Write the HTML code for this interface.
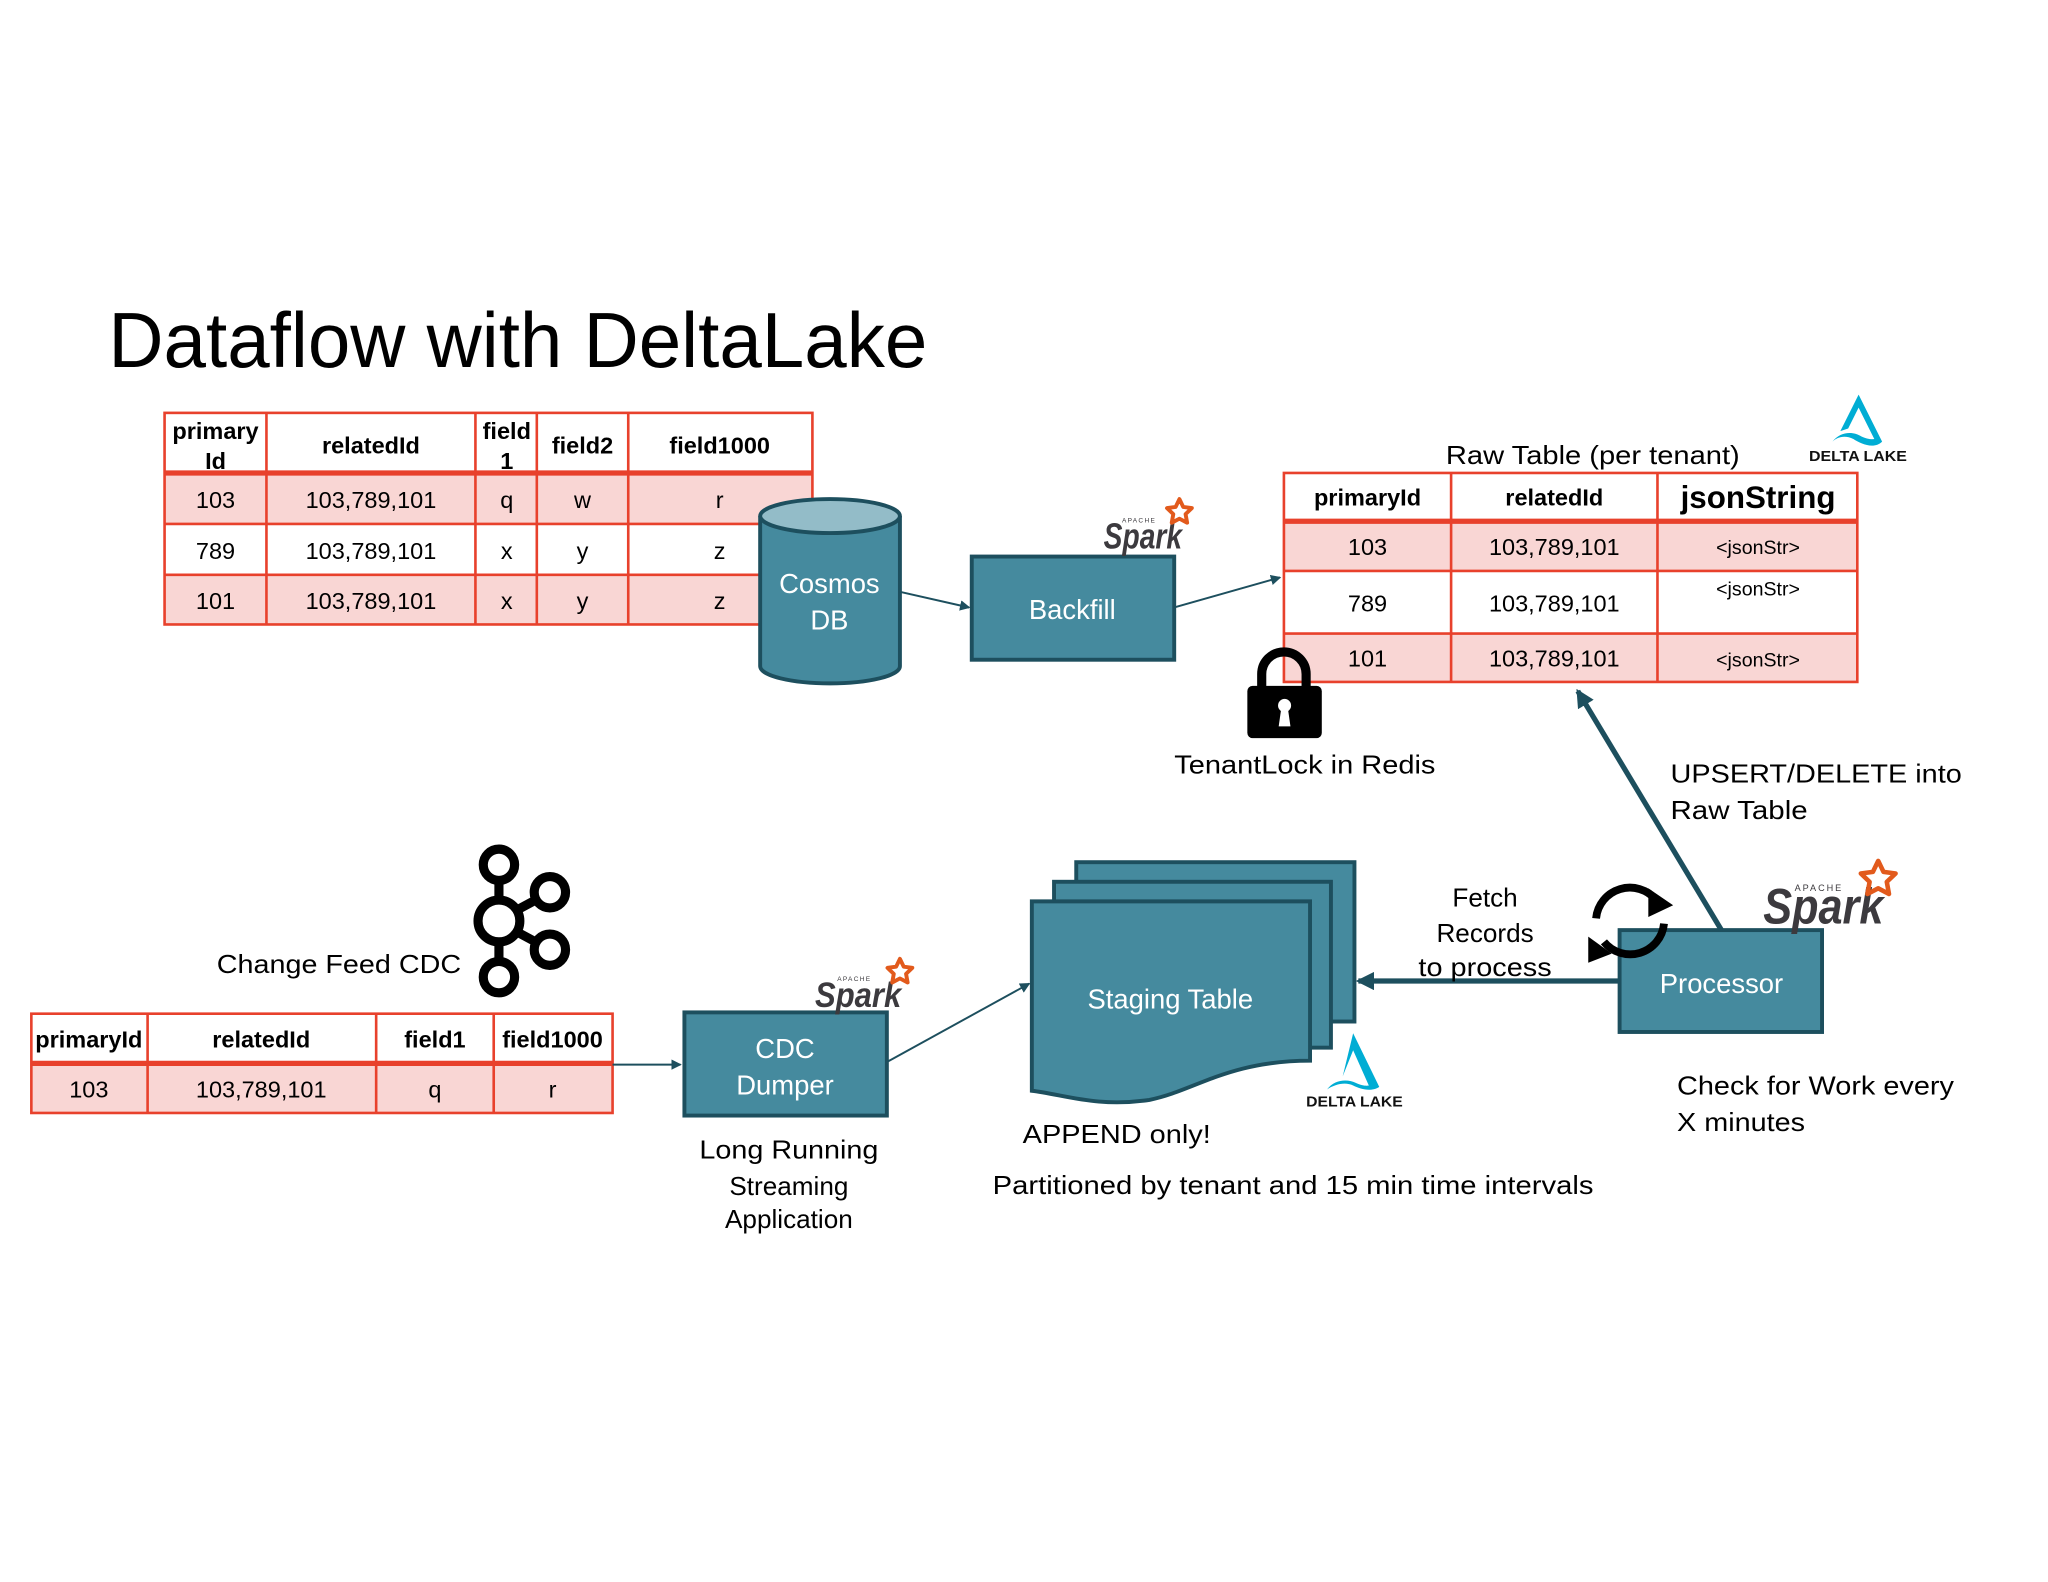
<!DOCTYPE html>
<html><head><meta charset="utf-8"><style>
html,body{margin:0;padding:0;background:#fff;}
svg{display:block;}
text{font-family:"Liberation Sans",Arial,sans-serif;}
</style></head><body>
<svg width="2048" height="1582" viewBox="0 0 1568 1211" xmlns="http://www.w3.org/2000/svg">
<defs>
<marker id="ah" markerWidth="8" markerHeight="8" refX="7" refY="4" orient="auto" markerUnits="userSpaceOnUse"><path d="M0,0 L8,4 L0,8 Z" fill="#1d4f5e"/></marker>
<marker id="ahb" markerWidth="14" markerHeight="14" refX="12" refY="7" orient="auto" markerUnits="userSpaceOnUse"><path d="M0,0 L14,7 L0,14 Z" fill="#1d4f5e"/></marker>
</defs>
<rect width="1568" height="1211" fill="#fff"/>

<text x="83" y="281" font-size="60" textLength="627" lengthAdjust="spacingAndGlyphs" fill="#000">Dataflow with DeltaLake</text>

<!-- Table 1 -->
<g>
<rect x="126" y="362" width="496" height="39" fill="#f9d6d4"/>
<rect x="126" y="440" width="496" height="38" fill="#f9d6d4"/>
<g stroke="#e8412c" stroke-width="2" fill="none">
<rect x="126" y="316" width="496" height="162"/>
<line x1="126" y1="401" x2="622" y2="401"/><line x1="126" y1="440" x2="622" y2="440"/>
<line x1="204" y1="316" x2="204" y2="478"/><line x1="364" y1="316" x2="364" y2="478"/>
<line x1="411" y1="316" x2="411" y2="478"/><line x1="481" y1="316" x2="481" y2="478"/>
</g>
<line x1="126" y1="362" x2="622" y2="362" stroke="#e8412c" stroke-width="4"/>
<g font-size="18" font-weight="bold" text-anchor="middle" fill="#000">
<text x="165" y="336">primary</text><text x="165" y="359">Id</text>
<text x="284" y="347">relatedId</text>
<text x="388" y="336">field</text><text x="388" y="359">1</text>
<text x="446" y="347">field2</text><text x="551" y="347">field1000</text>
</g>
<g font-size="18" text-anchor="middle" fill="#000">
<text x="165" y="389">103</text><text x="284" y="389">103,789,101</text><text x="388" y="389">q</text><text x="446" y="389">w</text><text x="551" y="389">r</text>
<text x="165" y="428">789</text><text x="284" y="428">103,789,101</text><text x="388" y="428">x</text><text x="446" y="428">y</text><text x="551" y="428">z</text>
<text x="165" y="466">101</text><text x="284" y="466">103,789,101</text><text x="388" y="466">x</text><text x="446" y="466">y</text><text x="551" y="466">z</text>
</g>
</g>

<!-- Cosmos DB -->
<path d="M582,395 L582,510 A53,13 0 0 0 689,510 L689,395" fill="#458a9e" stroke="#1d4f5e" stroke-width="3"/>
<ellipse cx="635.5" cy="395" rx="53.5" ry="13" fill="#93bcc8" stroke="#1d4f5e" stroke-width="3"/>
<text x="635" y="454" font-size="21" fill="#fff" text-anchor="middle">Cosmos</text>
<text x="635" y="482" font-size="21" fill="#fff" text-anchor="middle">DB</text>

<line x1="689" y1="453" x2="742" y2="465" stroke="#1d4f5e" stroke-width="1.5" marker-end="url(#ah)"/>

<rect x="744" y="426" width="155" height="79" fill="#458a9e" stroke="#1d4f5e" stroke-width="3"/>
<text x="821" y="474" font-size="21" fill="#fff" text-anchor="middle">Backfill</text>
<g transform="translate(845,380)">
<text x="0" y="40" font-size="28" font-weight="bold" font-style="italic" fill="#3c3a3e" textLength="60" lengthAdjust="spacingAndGlyphs">Spark</text>
<text x="14" y="20" font-size="5" fill="#3c3a3e" letter-spacing="1">APACHE</text>
<polygon points="0,-10 2.9,-4 9.5,-3.1 4.7,1.5 5.9,8.1 0,5 -5.9,8.1 -4.7,1.5 -9.5,-3.1 -2.9,-4" transform="translate(58,12)" fill="none" stroke="#e25a1c" stroke-width="3" stroke-linejoin="round"/>
</g>

<line x1="899" y1="465" x2="980" y2="442" stroke="#1d4f5e" stroke-width="1.5" marker-end="url(#ah)"/>

<!-- Raw table -->
<text x="1107" y="355" font-size="20" fill="#000" textLength="225" lengthAdjust="spacingAndGlyphs">Raw Table (per tenant)</text>
<rect x="983" y="399" width="439" height="38" fill="#f9d6d4"/>
<rect x="983" y="485" width="439" height="37" fill="#f9d6d4"/>
<g stroke="#e8412c" stroke-width="2" fill="none">
<rect x="983" y="362" width="439" height="160"/>
<line x1="983" y1="437" x2="1422" y2="437"/><line x1="983" y1="485" x2="1422" y2="485"/>
<line x1="1111" y1="362" x2="1111" y2="522"/><line x1="1269" y1="362" x2="1269" y2="522"/>
</g>
<line x1="983" y1="399" x2="1422" y2="399" stroke="#e8412c" stroke-width="4"/>
<g text-anchor="middle" fill="#000">
<text x="1047" y="387" font-size="18" font-weight="bold">primaryId</text>
<text x="1190" y="387" font-size="18" font-weight="bold">relatedId</text>
<text x="1346" y="389" font-size="24" font-weight="bold">jsonString</text>
<g font-size="18"><text x="1047" y="425">103</text><text x="1190" y="425">103,789,101</text>
<text x="1047" y="468">789</text><text x="1190" y="468">103,789,101</text>
<text x="1047" y="510">101</text><text x="1190" y="510">103,789,101</text></g>
<g font-size="15"><text x="1346" y="424">&lt;jsonStr&gt;</text><text x="1346" y="456">&lt;jsonStr&gt;</text><text x="1346" y="510">&lt;jsonStr&gt;</text></g>
</g>

<g transform="translate(1385,300)">
<path d="M38,2 L56,38 C50,44 40,40 34,36 C28,33 22,34 18,38 C24,30 34,30 40,34 C46,37 50,36 50,36 L38,12 L30,28 L24,30 Z" fill="#00add4"/>
<text x="0" y="53" font-size="11" font-weight="bold" fill="#111" textLength="75" lengthAdjust="spacingAndGlyphs">DELTA LAKE</text>
</g>

<g transform="translate(955,498)">
<path d="M11,28 L11,18 A17,17 0 0 1 45,18 L45,28" fill="none" stroke="#000" stroke-width="7"/>
<rect x="0" y="27" width="57" height="40" rx="4" fill="#000"/>
<circle cx="28.5" cy="42" r="5" fill="#fff"/>
<path d="M26,44 L24,58 L33,58 L31,44 Z" fill="#fff"/>
</g>
<text x="899" y="592" font-size="20" fill="#000" textLength="200" lengthAdjust="spacingAndGlyphs">TenantLock in Redis</text>

<line x1="1318" y1="712" x2="1208" y2="529" stroke="#1d4f5e" stroke-width="4" marker-end="url(#ahb)"/>
<text x="1279" y="599" font-size="20" fill="#000" textLength="223" lengthAdjust="spacingAndGlyphs">UPSERT/DELETE into</text>
<text x="1279" y="627" font-size="20" fill="#000" textLength="105" lengthAdjust="spacingAndGlyphs">Raw Table</text>

<rect x="1240" y="712" width="155" height="78" fill="#458a9e" stroke="#1d4f5e" stroke-width="3"/>
<text x="1318" y="760" font-size="21" fill="#fff" text-anchor="middle">Processor</text>
<g transform="translate(1248,705)" fill="none" stroke="#000" stroke-width="6">
<path d="M-26,-2 A26,26 0 0 1 20,-16"/>
<path d="M26,2 A26,26 0 0 1 -20,16"/>
</g>
<path d="M1262,680 L1281,693 L1262,702 Z" fill="#000"/>
<path d="M1234,730 L1216,717 L1216,737 Z" fill="#000"/>
<g transform="translate(1350,657)">
<text x="0" y="50" font-size="38" font-weight="bold" font-style="italic" fill="#3c3a3e" textLength="92" lengthAdjust="spacingAndGlyphs">Spark</text>
<text x="24" y="25" font-size="7" fill="#3c3a3e" letter-spacing="1.5">APACHE</text>
<polygon points="0,-10 2.9,-4 9.5,-3.1 4.7,1.5 5.9,8.1 0,5 -5.9,8.1 -4.7,1.5 -9.5,-3.1 -2.9,-4" transform="translate(88,16) scale(1.4)" fill="none" stroke="#e25a1c" stroke-width="2.5" stroke-linejoin="round"/>
</g>

<line x1="1240" y1="751" x2="1040" y2="751" stroke="#1d4f5e" stroke-width="4" marker-end="url(#ahb)"/>
<g font-size="20" text-anchor="middle" fill="#000">
<text x="1137" y="694">Fetch</text><text x="1137" y="721">Records</text><text x="1137" y="747" textLength="102" lengthAdjust="spacingAndGlyphs">to process</text>
</g>
<text x="1284" y="838" font-size="20" fill="#000" textLength="212" lengthAdjust="spacingAndGlyphs">Check for Work every</text>
<text x="1284" y="866" font-size="20" fill="#000" textLength="98" lengthAdjust="spacingAndGlyphs">X minutes</text>

<g fill="#458a9e" stroke="#1d4f5e" stroke-width="3">
<rect x="824" y="660" width="213" height="122"/>
<rect x="807" y="675" width="212" height="127"/>
<path d="M790,690 L1003,690 L1003,812 C940,812 915,835 880,842 C840,848 815,838 790,835 Z"/>
</g>
<text x="896" y="772" font-size="21" fill="#fff" text-anchor="middle">Staging Table</text>
<g transform="translate(1000,790)">
<path d="M36,1 L56,42 C50,46 42,44 36,41 C30,38 22,40 16,44 C22,36 32,36 38,39 C44,42 48,41 48,41 L36,14 L28,34 Z" fill="#00add4"/>
<text x="0" y="57" font-size="11" font-weight="bold" fill="#111" textLength="74" lengthAdjust="spacingAndGlyphs">DELTA LAKE</text>
</g>
<text x="783" y="875" font-size="20" fill="#000" textLength="144" lengthAdjust="spacingAndGlyphs">APPEND only!</text>
<text x="760" y="914" font-size="20" fill="#000" textLength="460" lengthAdjust="spacingAndGlyphs">Partitioned by tenant and  15 min time intervals</text>

<line x1="679" y1="813" x2="788" y2="753" stroke="#1d4f5e" stroke-width="1.5" marker-end="url(#ah)"/>
<rect x="524" y="775" width="155" height="79" fill="#458a9e" stroke="#1d4f5e" stroke-width="3"/>
<text x="601" y="810" font-size="21" fill="#fff" text-anchor="middle">CDC</text>
<text x="601" y="838" font-size="21" fill="#fff" text-anchor="middle">Dumper</text>
<g transform="translate(624,733)">
<text x="0" y="38" font-size="27" font-weight="bold" font-style="italic" fill="#3c3a3e" textLength="66" lengthAdjust="spacingAndGlyphs">Spark</text>
<text x="17" y="18" font-size="5" fill="#3c3a3e" letter-spacing="1">APACHE</text>
<polygon points="0,-10 2.9,-4 9.5,-3.1 4.7,1.5 5.9,8.1 0,5 -5.9,8.1 -4.7,1.5 -9.5,-3.1 -2.9,-4" transform="translate(65,11)" fill="none" stroke="#e25a1c" stroke-width="3" stroke-linejoin="round"/>
</g>
<g font-size="20" text-anchor="middle" fill="#000">
<text x="604" y="887" textLength="137" lengthAdjust="spacingAndGlyphs">Long Running</text><text x="604" y="915">Streaming</text><text x="604" y="940">Application</text>
</g>

<!-- Table 3 -->
<rect x="24" y="814" width="445" height="38" fill="#f9d6d4"/>
<g stroke="#e8412c" stroke-width="2" fill="none">
<rect x="24" y="776" width="445" height="76"/>
<line x1="113" y1="776" x2="113" y2="852"/><line x1="288" y1="776" x2="288" y2="852"/><line x1="378" y1="776" x2="378" y2="852"/>
</g>
<line x1="24" y1="814" x2="469" y2="814" stroke="#e8412c" stroke-width="4"/>
<g font-size="18" font-weight="bold" text-anchor="middle" fill="#000">
<text x="68" y="802">primaryId</text><text x="200" y="802">relatedId</text><text x="333" y="802">field1</text><text x="423" y="802">field1000</text>
</g>
<g font-size="18" text-anchor="middle" fill="#000">
<text x="68" y="840">103</text><text x="200" y="840">103,789,101</text><text x="333" y="840">q</text><text x="423" y="840">r</text>
</g>
<line x1="469" y1="815" x2="521" y2="815" stroke="#1d4f5e" stroke-width="1.5" marker-end="url(#ah)"/>

<text x="166" y="745" font-size="20" fill="#000" textLength="187" lengthAdjust="spacingAndGlyphs">Change Feed CDC</text>
<g fill="none" stroke="#000" stroke-width="7">
<line x1="382" y1="675" x2="382" y2="688"/>
<line x1="382" y1="722" x2="382" y2="736"/>
<line x1="397" y1="696" x2="410" y2="689"/>
<line x1="397" y1="714" x2="410" y2="721"/>
<circle cx="382" cy="662" r="12"/>
<circle cx="382" cy="705" r="16"/>
<circle cx="382" cy="748" r="12"/>
<circle cx="421" cy="683" r="12"/>
<circle cx="421" cy="727" r="12"/>
</g>
</svg>
</body></html>
